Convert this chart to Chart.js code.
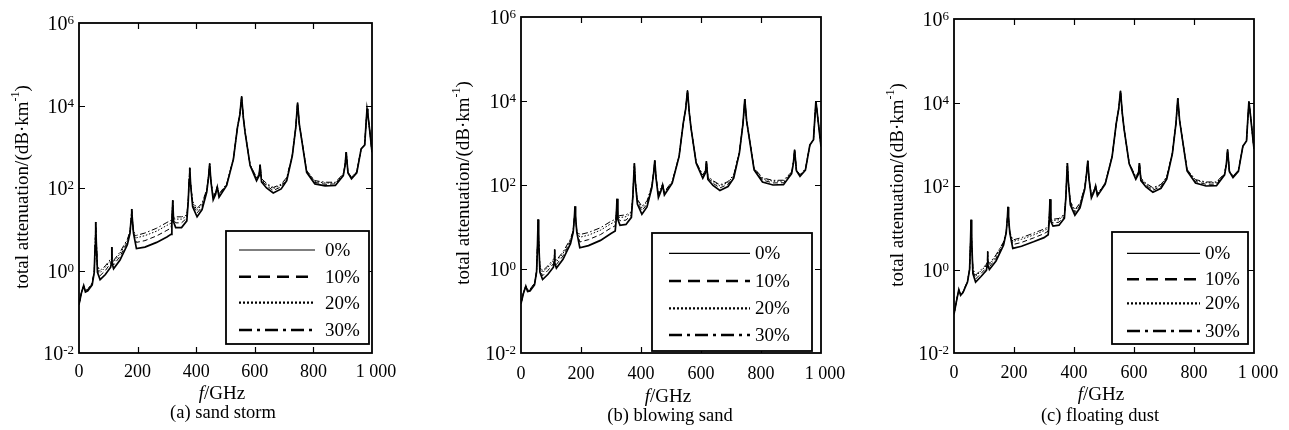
<!DOCTYPE html>
<html><head><meta charset="utf-8">
<script src="https://cdn.jsdelivr.net/npm/chart.js@4"></script>
<style>
html,body{margin:0;padding:0;background:#fff;width:1289px;height:430px;overflow:hidden}
canvas{position:absolute;top:0}
</style></head><body>
<canvas id="ca" width="430" height="430" style="left:0"></canvas>
<canvas id="cb" width="430" height="430" style="left:430px"></canvas>
<canvas id="cc" width="429" height="430" style="left:860px"></canvas>
<script>
// ---------------- data ----------------
const freqGHz = [0,8,16,22,30,45,52,55,57,59,
  63,72,90,108,111,112,113,118,140,165,
  174,178,180,182,186,196,225,265,300,314,
  317,320,323,330,350,368,373,376,378,381,
  388,403,420,436,442,446,450,458,466,472,
  478,504,527,541,549,555,561,567,584,606,
  615,618,623,640,663,690,709,728,740,746,
  752,777,805,840,875,902,908,912,918,930,
  948,963,975,983,986,993,1000];

const seriesLabels = ['0%','10%','20%','30%'];
const panelCaptions = ['(a) sand storm','(b) blowing sand','(c) floating dust'];
const xTickValues = [0,200,400,600,800,1000];
const xTickLabels = ['0','200','400','600','800','1 000'];
const yTickExponents = [-2,0,2,4,6];

// (a) sand storm
const sandStorm0 = [0.15,0.28,0.43,0.3,0.32,0.45,0.9,4,15,5,
  0.9,0.6,0.8,1.2,1.6,3.7,1.5,1.1,1.8,4.2,
  8,18,31,18,8,3.4,3.7,4.8,6.5,7.5,
  14,50,15,11,11,16,50,160,310,120,
  35,20,30,80,180,390,150,52,70,105,
  60,115,500,3000,6000,16500,5000,2200,350,150,
  200,370,140,100,76,95,150,600,3000,11700,
  3500,240,126,113,115,200,350,740,230,167,
  233,890,1100,8300,6000,2200,740];
const sandStorm10 = [0.15,0.285,0.43,0.31,0.33,0.47,0.92,4,15,5.1,
  1.04,0.75,1.0,1.5,1.75,3.7,1.7,1.36,2.2,4.8,
  8.3,18,31,18,8.3,4.8,5.3,6.9,9.4,10.7,
  15.5,50,16.7,14.3,14.3,18.6,51,160,310,122,
  40,24.8,35,86,184,390,153,57,75,107,
  65,120,505,3000,6000,16500,5000,2200,357,164,
  214,370,153,113,87,107,164,612,3000,11700,
  3500,250,137,123,125,208,357,740,235,174,
  241,890,1100,8300,6000,2200,740];
const sandStorm20 = [0.15,0.29,0.43,0.32,0.35,0.49,0.94,4,15,5.2,
  1.18,0.89,1.2,1.75,1.85,3.7,1.85,1.6,2.55,5.3,
  8.6,18,31,18,8.6,6.2,7.0,9.0,12.4,14.1,
  17,50,18,17.6,17.6,21,52,160,310,125,
  44,29,40,90,187,390,156,60,78,109,
  70,124,510,3000,6000,16500,5000,2200,364,174,
  224,370,162,123,97,117,174,624,3000,11700,
  3500,259,146,132,133,216,364,740,239,180,
  247,890,1100,8300,6000,2200,740];
const sandStorm30 = [0.15,0.29,0.43,0.33,0.35,0.5,0.95,4,15,5.2,
  1.25,1.0,1.3,1.9,1.9,3.7,2.0,1.75,2.8,5.7,
  8.8,18,31,18,8.8,7.1,8.1,10.6,14.6,16.5,
  18,50,19,20,20,22,52,160,310,126,
  47,32,43,92,190,390,158,62,80,110,
  72,126,515,3000,6000,16500,5000,2200,370,180,
  230,370,168,130,103,124,180,630,3000,11700,
  3500,264,151,138,138,220,368,740,242,184,
  252,890,1100,8300,6000,2200,740];

// (b) blowing sand
const blowingSand0 = [0.15,0.26,0.39,0.29,0.3,0.42,0.85,3.8,15,5,
  0.85,0.56,0.75,1.1,1.5,2.9,1.4,1.05,1.7,4.0,
  7.5,17,31,17,7.5,3.2,3.6,4.8,7.0,8,
  14,47,15,11,11.5,17,55,170,330,120,
  35,20,30,85,190,385,150,50,70,100,
  58,110,480,3000,6500,17800,5200,2200,330,145,
  195,365,135,98,74,92,145,580,2900,11100,
  3400,230,118,100,102,185,330,690,220,160,
  225,900,1200,10000,6500,2300,830];
const blowingSand10 = [0.15,0.265,0.39,0.3,0.31,0.44,0.87,3.8,15,5.1,
  0.99,0.69,0.93,1.34,1.62,2.9,1.58,1.28,2.04,4.5,
  7.8,17,31,17,7.8,4.4,5.0,6.6,9.5,10.7,
  15.5,47,16.3,14.1,14.6,19.4,56,170,330,122,
  39.2,24.4,34.9,89,192,385,153,54.5,74.5,102,
  63,115,486,3000,6500,17800,5200,2200,337,157,
  207,365,147,110,85,104,157,593,2900,11100,
  3400,240,131,112,113,193,337,690,225,167,
  233,900,1200,10000,6500,2300,830];
const blowingSand20 = [0.15,0.27,0.39,0.31,0.32,0.45,0.88,3.8,15,5.2,
  1.12,0.82,1.1,1.56,1.74,2.9,1.72,1.49,2.35,4.9,
  8.1,17,31,17,8.1,5.7,6.4,8.4,12.0,13.4,
  16.7,47,17.4,16.8,17.6,21.5,57,170,330,125,
  43,28.5,39,93,194,385,156,58,78,104,
  67,118,490,3000,6500,17800,5200,2200,343,168,
  218,365,157,121,95,114,168,600,2900,11100,
  3400,249,142,123,124,200,343,690,229,173,
  239,900,1200,10000,6500,2300,830];
const blowingSand30 = [0.15,0.27,0.39,0.32,0.33,0.46,0.89,3.8,15,5.2,
  1.19,0.9,1.2,1.7,1.8,2.9,1.8,1.63,2.55,5.2,
  8.3,17,31,17,8.3,6.6,7.4,9.6,13.7,15.2,
  17.5,47,18,18.7,19.5,23,58,170,330,126,
  45.5,31,42,95,196,385,158,60,80,105,
  70,121,494,3000,6500,17800,5200,2200,347,174,
  224,365,162,127,101,120,174,609,2900,11100,
  3400,253,148,129,130,204,347,690,231,176,
  243,900,1200,10000,6500,2300,830];

// (c) floating dust
const floatingDust0 = [0.085,0.17,0.33,0.24,0.28,0.5,1.0,4.5,15.6,5,
  0.8,0.5,0.68,0.95,1.3,2.7,1.3,1.0,1.6,3.8,
  7.5,17,31.6,17,7.5,3.2,3.6,4.6,5.8,6.8,
  13,48,14,11,11.5,17,55,180,355,130,
  35,20,30,85,200,400,150,52,70,100,
  58,110,500,3200,7000,19000,5500,2300,340,145,
  195,355,135,95,71,88,145,600,3200,12600,
  3700,230,118,100,102,185,340,750,220,160,
  225,900,1200,10500,7000,2300,770];
const floatingDust10 = [0.085,0.172,0.33,0.245,0.285,0.51,1.01,4.5,15.6,5.05,
  0.9,0.59,0.8,1.1,1.38,2.7,1.44,1.16,1.86,4.1,
  7.65,17,31.6,17,7.65,3.95,4.45,5.7,7.2,8.3,
  14.1,48,14.9,13,13.6,18.8,56,180,355,131,
  38,22.9,33.5,89,202,400,153,55.5,73,101,
  61,113,505,3200,7000,19000,5500,2300,346,154,
  205,355,143,104,79.5,97,154,610,3200,12600,
  3700,238,128,110,111,192,345,750,224,166,
  231,900,1200,10500,7000,2300,770];
const floatingDust20 = [0.085,0.174,0.33,0.25,0.29,0.52,1.02,4.5,15.6,5.1,
  0.98,0.68,0.92,1.24,1.46,2.7,1.56,1.31,2.1,4.4,
  7.8,17,31.6,17,7.8,4.7,5.3,6.7,8.5,9.7,
  15.1,48,15.7,14.9,15.5,20.4,56,180,355,133,
  40.6,25.4,37,92,204,400,155,58,76,102,
  64,116,510,3200,7000,19000,5500,2300,351,162,
  214,355,151,111,87,105,162,618,3200,12600,
  3700,245,137,120,120,197,350,750,227,170,
  236,900,1200,10500,7000,2300,770];
const floatingDust30 = [0.085,0.175,0.33,0.25,0.29,0.53,1.03,4.5,15.6,5.1,
  1.04,0.73,0.99,1.33,1.5,2.7,1.63,1.4,2.24,4.56,
  7.9,17,31.6,17,7.9,5.1,5.8,7.4,9.3,10.5,
  15.6,48,16.1,16,16.7,21,57,180,355,134,
  42,27,39,94,204,400,156,60,77,103,
  65,118,510,3200,7000,19000,5500,2300,354,167,
  218,355,155,116,91,109,167,624,3200,12600,
  3700,248,142,125,125,200,354,750,229,173,
  239,900,1200,10500,7000,2300,770];

// ---------------- styling / layout ----------------
const FONT = '"Liberation Serif","Times New Roman",serif';
const lineStyles = [
  {dash:[], w:1.7, legW:1.2, legDash:[]},
  {dash:[5,3], w:1, legW:2.6, legDash:[12,7]},
  {dash:[1.5,1.8], w:1, legW:2.2, legDash:[2,2]},
  {dash:[6,2.5,1.5,2.5], w:1, legW:2.6, legDash:[13,5,3,5]}
];

const panels = [
  {id:'ca', H:430, W:430, series:[sandStorm0,sandStorm10,sandStorm20,sandStorm30], caption:panelCaptions[0],
   plot:{l:79,t:23,r:372,b:353}, yTitle:{x:22,y:187}, xTitle:{x:222,y:399}, cap:{x:223,y:418}, xLab:377,
   legend:{x1:226,y1:231,x2:369,y2:344,rows:[250,276.7,302.7,330],s1:239,s2:315,tx:325}},
  {id:'cb', H:430, W:430, series:[blowingSand0,blowingSand10,blowingSand20,blowingSand30], caption:panelCaptions[1],
   plot:{l:91,t:17,r:391,b:353}, yTitle:{x:33,y:183}, xTitle:{x:238,y:402}, cap:{x:240,y:421}, xLab:379,
   legend:{x1:222,y1:233,x2:382,y2:351,rows:[253.3,281,308.3,335],s1:239,s2:320,tx:325}},
  {id:'cc', H:430, W:429, series:[floatingDust0,floatingDust10,floatingDust20,floatingDust30], caption:panelCaptions[2],
   plot:{l:94,t:19,r:394,b:353}, yTitle:{x:37,y:185}, xTitle:{x:241,y:400}, cap:{x:240,y:421}, xLab:378,
   legend:{x1:252,y1:232,x2:388,y2:344,rows:[253.3,279.3,303.3,331],s1:267,s2:340,tx:345}}
];

function drawDecor(chart, p){
  const ctx = chart.ctx, ca = chart.chartArea, xs = chart.scales.x, ys = chart.scales.y;
  ctx.save();
  ctx.strokeStyle = '#000'; ctx.fillStyle = '#000'; ctx.setLineDash([]);
  // frame
  ctx.lineWidth = 1.8;
  ctx.strokeRect(ca.left, ca.top, ca.right - ca.left, ca.bottom - ca.top);
  // inward ticks
  ctx.lineWidth = 1.2;
  ctx.beginPath();
  xTickValues.slice(1, -1).forEach(v => {
    const px = Math.round(xs.getPixelForValue(v)) + 0.5;
    ctx.moveTo(px, ca.bottom); ctx.lineTo(px, ca.bottom - 6);
    ctx.moveTo(px, ca.top); ctx.lineTo(px, ca.top + 6);
  });
  yTickExponents.slice(1, -1).forEach(e => {
    const py = Math.round(ys.getPixelForValue(Math.pow(10, e))) + 0.5;
    ctx.moveTo(ca.left, py); ctx.lineTo(ca.left + 6, py);
    ctx.moveTo(ca.right, py); ctx.lineTo(ca.right - 6, py);
  });
  ctx.stroke();
  // x tick labels
  ctx.font = '18px ' + FONT; ctx.textAlign = 'center'; ctx.textBaseline = 'alphabetic';
  xTickValues.forEach((v, i) => {
    const dx = (i === xTickValues.length - 1) ? 4 : 0;
    ctx.fillText(xTickLabels[i], xs.getPixelForValue(v) + dx, p.xLab);
  });
  // y tick labels 10^e
  yTickExponents.forEach(e => {
    const py = ys.getPixelForValue(Math.pow(10, e));
    const sup = String(e);
    ctx.font = '13px ' + FONT;
    const ws = ctx.measureText(sup).width;
    ctx.font = '20px ' + FONT;
    const wb = ctx.measureText('10').width;
    const right = ca.left - 5;
    ctx.textAlign = 'left';
    ctx.fillText('10', right - ws - wb, py + 7);
    ctx.font = '13px ' + FONT;
    ctx.fillText(sup, right - ws, py + 1);
  });
  // y axis title
  ctx.save();
  ctx.translate(p.yTitle.x, p.yTitle.y);
  ctx.rotate(-Math.PI / 2);
  const t1 = 'total attenuation/(dB·km', t2 = '-1', t3 = ')';
  ctx.font = '19px ' + FONT; const w1 = ctx.measureText(t1).width, w3 = ctx.measureText(t3).width;
  ctx.font = '12px ' + FONT; const w2 = ctx.measureText(t2).width;
  let sx = -(w1 + w2 + w3) / 2;
  ctx.textAlign = 'left';
  ctx.font = '19px ' + FONT; ctx.fillText(t1, sx, 6); sx += w1;
  ctx.font = '12px ' + FONT; ctx.fillText(t2, sx, -3); sx += w2;
  ctx.font = '19px ' + FONT; ctx.fillText(t3, sx, 6);
  ctx.restore();
  // x axis title: italic f + /GHz
  ctx.font = 'italic 19px ' + FONT; const wf = ctx.measureText('f').width;
  ctx.font = '19px ' + FONT; const wg = ctx.measureText('/GHz').width;
  let xx = p.xTitle.x - (wf + wg) / 2;
  ctx.textAlign = 'left';
  ctx.font = 'italic 19px ' + FONT; ctx.fillText('f', xx, p.xTitle.y);
  ctx.font = '19px ' + FONT; ctx.fillText('/GHz', xx + wf, p.xTitle.y);
  // caption
  ctx.font = '18.5px ' + FONT;
  ctx.textAlign = 'center';
  ctx.fillText(p.caption, p.cap.x, p.cap.y);
  // legend
  const L = p.legend;
  ctx.fillStyle = '#fff';
  ctx.fillRect(L.x1, L.y1, L.x2 - L.x1, L.y2 - L.y1);
  ctx.lineWidth = 1.8; ctx.strokeStyle = '#000';
  ctx.strokeRect(L.x1, L.y1, L.x2 - L.x1, L.y2 - L.y1);
  ctx.fillStyle = '#000';
  chart.data.datasets.forEach((ds, k) => {
    const st = lineStyles[k];
    const y = L.rows[k];
    ctx.lineWidth = st.legW; ctx.setLineDash(st.legDash);
    ctx.beginPath(); ctx.moveTo(L.s1, y); ctx.lineTo(L.s2, y); ctx.stroke();
    ctx.setLineDash([]);
    ctx.font = '19px ' + FONT; ctx.textAlign = 'left'; ctx.textBaseline = 'middle';
    ctx.fillText(ds.label, L.tx, y + 1);
  });
  ctx.textBaseline = 'alphabetic';
  ctx.restore();
}

panels.forEach(p => {
  const ctx = document.getElementById(p.id).getContext('2d');
  new Chart(ctx, {
    type: 'line',
    data: {
      datasets: p.series.map((arr, k) => ({
        label: seriesLabels[k],
        data: freqGHz.map((f, i) => ({x: f, y: arr[i]})),
        borderColor: '#000',
        borderWidth: lineStyles[k].w,
        borderDash: lineStyles[k].dash,
        pointRadius: 0,
        fill: false,
        tension: 0
      }))
    },
    options: {
      responsive: false,
      animation: false,
      devicePixelRatio: 1,
      layout: {padding: {left: 0, top: p.plot.t, right: p.W - p.plot.r, bottom: 0}},
      plugins: {legend: {display: false}, tooltip: {enabled: false}, title: {display: false}},
      scales: {
        x: {type: 'linear', min: 0, max: 1000,
            ticks: {display: false}, grid: {display: false}, border: {display: false},
            afterFit: s => { s.height = p.H - p.plot.b; }},
        y: {type: 'logarithmic', min: 0.01, max: 1e6,
            ticks: {display: false}, grid: {display: false}, border: {display: false},
            afterFit: s => { s.width = p.plot.l; }}
      }
    },
    plugins: [{id: 'decor', afterDraw: chart => drawDecor(chart, p)}]
  });
});
</script>
</body></html>
